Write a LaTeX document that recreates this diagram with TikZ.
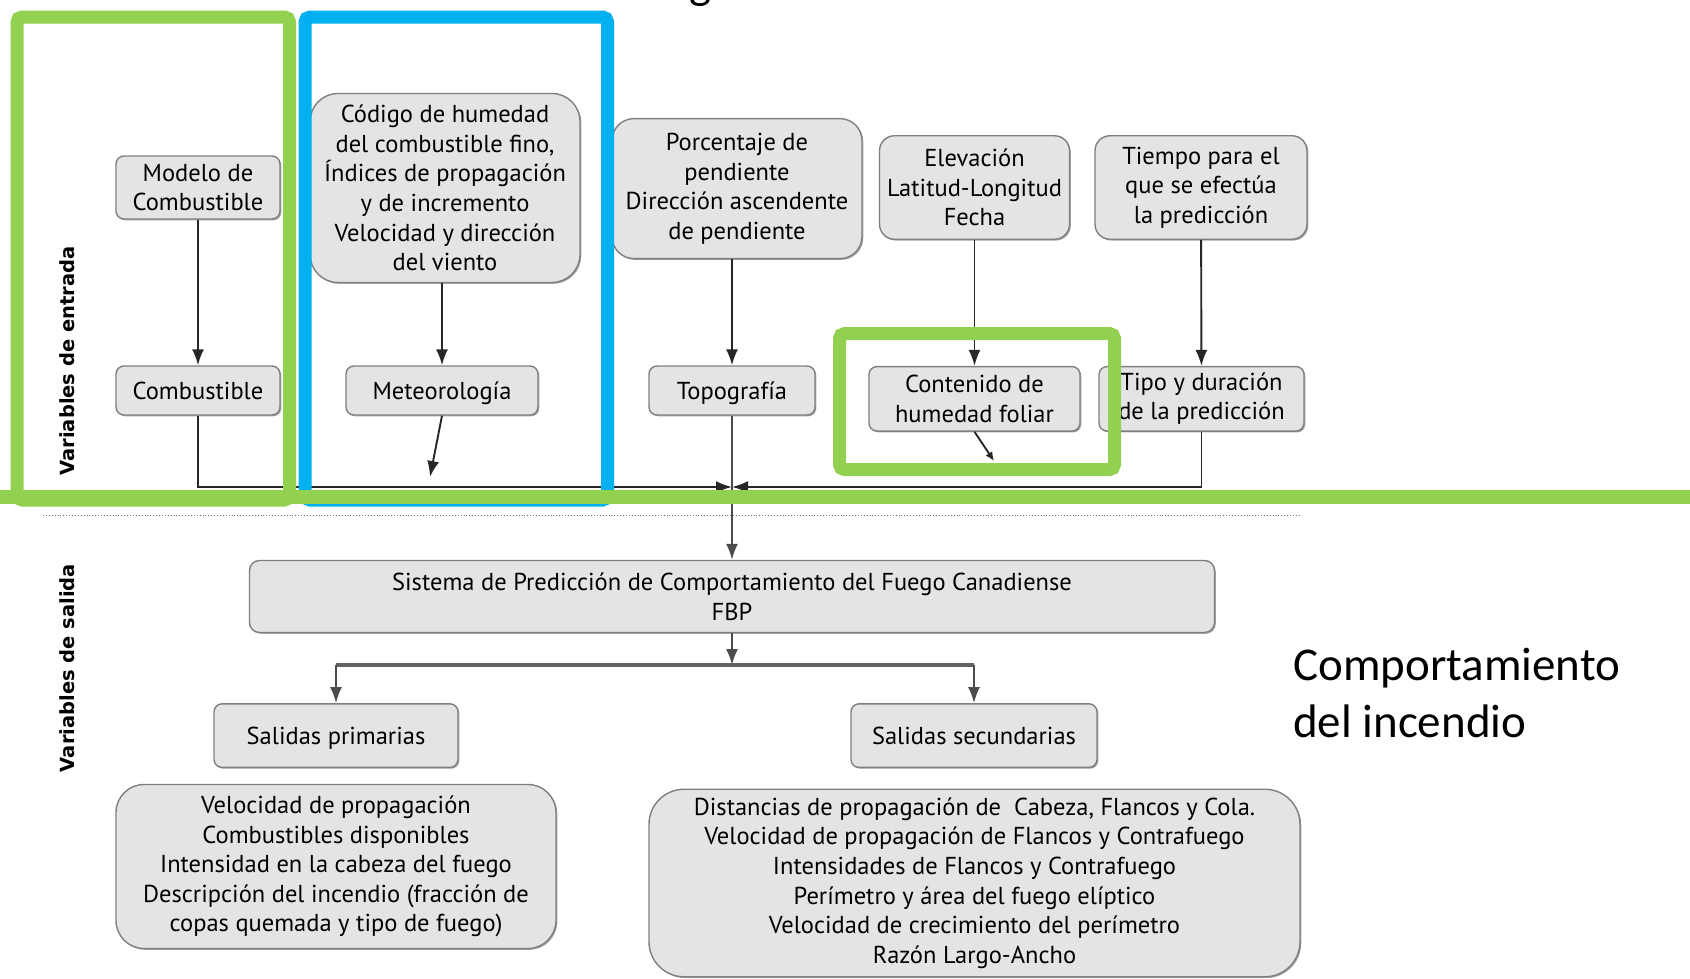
\documentclass[tikz,border=0pt]{standalone}
\usepackage{fontspec}
\usetikzlibrary{arrows.meta,shadows}
\newfontfamily\diagfont{PT Sans}
\newfontfamily\sidefont{DejaVu Sans}
\newfontfamily\notefont{Carlito}
\definecolor{boxfill}{HTML}{E4E4E4}
\definecolor{boxline}{HTML}{7F7F7F}
\definecolor{framegreen}{HTML}{92D050}
\definecolor{frameblue}{HTML}{00B0F0}

\begin{document}
\begin{tikzpicture}[x=1pt,y=-1pt,
  box/.style={draw=boxline, fill=boxfill, line width=1.4pt, rounded corners=#1,
    align=center, inner sep=0pt, font=\diagfont\fontsize{24.5}{29.6}\selectfont,
    drop shadow={shadow xshift=1.3pt, shadow yshift=-1.3pt, fill=black!45, opacity=0.8}},
  box/.default=8pt,
  oneline/.style={text height=24pt, text depth=6pt},
  link/.style={line width=1.9pt, draw=black!85, -{Latex[length=16pt,width=12pt]}},
  wire/.style={line width=1.9pt, draw=black!70},
  frame/.style={line width=13pt, rounded corners=5pt},
  sidelabel/.style={rotate=90, font=\sidefont\bfseries\fontsize{19.5}{19.5}\selectfont}]

\useasboundingbox (0,0) rectangle (1690,978);
\clip (0,0) rectangle (1690,978);

% heading (only its lower edge falls inside the page)
\node[font=\notefont\fontsize{47}{47}\selectfont, anchor=base, inner sep=0] (ttl) at (701,-2) {g};

% side labels
\node[sidelabel] (vin) at (67,361) {Variables de entrada};
\node[sidelabel] (vout) at (67,668) {Variables de salida};

% input variables
\node[box, minimum width=164, minimum height=63] (mod) at (198,187.5) {Modelo de\\Combustible};
\node[box, oneline, minimum width=164, minimum height=49] (comb) at (198,390.5) {Combustible};
\node[box=28pt, minimum width=270, minimum height=189] (cod) at (445,188)
  {Código de humedad\\del combustible fino,\\Índices de propagación\\y de incremento\\Velocidad y dirección\\del viento};
\node[box, oneline, minimum width=192, minimum height=49] (met) at (442,390.5) {Meteorología};
\node[box=22pt, minimum width=250, minimum height=140] (por) at (737,188.6)
  {Porcentaje de\\pendiente\\Dirección ascendente\\de pendiente};
\node[box, oneline, minimum width=166, minimum height=49] (top) at (732,390.5) {Topografía};
\node[box=15pt, minimum width=190, minimum height=103.5] (ele) at (974.5,187.5)
  {Elevación\\Latitud-Longitud\\Fecha};
\node[box, minimum width=211, minimum height=64.5] (con) at (974.5,398.8) {Contenido de\\humedad foliar};
\node[box=15pt, minimum width=212, minimum height=103.5] (tie) at (1201,187.5)
  {Tiempo para el\\que se efectúa\\la predicción};
\node[box, minimum width=205, minimum height=64.5] (tip) at (1201.5,398.8) {Tipo y duración\\de la predicción};

% system and outputs
\node[box=10pt, minimum width=965, minimum height=72] (sis) at (732,596.5)
  {Sistema de Predicción de Comportamiento del Fuego Canadiense\\FBP};
\node[box, oneline, minimum width=244, minimum height=63.6] (salp) at (336,735.6) {Salidas primarias};
\node[box, oneline, minimum width=246, minimum height=63.6] (sals) at (974,735.6) {Salidas secundarias};
\node[box=28pt, minimum width=440, minimum height=164] (vel) at (336,866.5)
  {Velocidad de propagación\\Combustibles disponibles\\Intensidad en la cabeza del fuego\\Descripción del incendio (fracción de\\copas quemada y tipo de fuego)};
\node[box=35pt, minimum width=651, minimum height=187.5] (dis) at (974.5,883)
  {Distancias de propagación de \ Cabeza, Flancos y Cola.\\Velocidad de propagación de Flancos y Contrafuego\\Intensidades de Flancos y Contrafuego\\Perímetro y área del fuego elíptico\\Velocidad de crecimiento del perímetro\\Razón Largo-Ancho};

% note on the right
\node[anchor=north west, align=left, inner sep=0, font=\notefont\fontsize{47}{57}\selectfont] (note) at (1293,648)
  {Comportamiento\\del incendio};

% connectors between inputs
\draw[link] (mod) -- (comb);
\draw[link] (met.north |- cod.south) -- (met.north);
\draw[link] (top.north |- por.south) -- (top.north);
\draw[link] (ele) -- (con);
\draw[link] (tie) -- (tip);

% collecting bus
\coordinate (jn) at (732,487);
\coordinate (mend) at (430,477);
\coordinate (cend) at (994,461);
\draw[wire] (top.south) -- (jn);
\draw[link] (comb.south) |- (jn);
\draw[link] (tip.south) |- (jn);
\draw[link] (met.south) -- (mend);
\draw[line width=1.9pt, draw=black!85, -{Latex[length=9pt,width=8pt]}] (con.south) -- (cend);
\draw[link, draw=black!70] (jn) -- (sis.north);

% separator between inputs and outputs
\draw[dotted, black!55, line width=0.9pt] (43,515) -- (1301,515);

% split towards the outputs
\coordinate (sp) at (732,665);
\draw[link, draw=black!70] (sis.south) -- (sp);
\draw[line width=3.2pt, black!62] (salp.north |- sp) -- (sals.north |- sp);
\draw[link, draw=black!70] (salp.north |- sp) -- (salp.north);
\draw[link, draw=black!70] (sals.north |- sp) -- (sals.north);

% highlight frames
\draw[frame, framegreen] (17,17) rectangle (289.5,500);
\draw[frame, frameblue] (305,17) rectangle (607.5,500);
\draw[frame, framegreen] (839.5,333.5) rectangle (1114.5,469.5);
\draw[line width=14pt, framegreen] (0,497) -- (1690,497);
\end{tikzpicture}
\end{document}
